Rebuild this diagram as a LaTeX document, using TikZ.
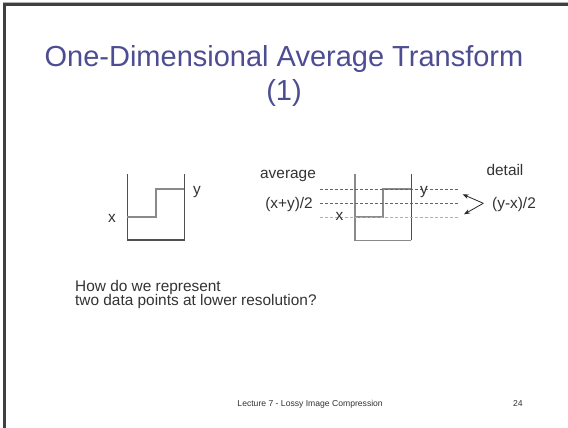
\documentclass[tikz,border=0pt]{standalone}
\usepackage{fontspec}
\setmainfont{Liberation Sans}
\usetikzlibrary{arrows.meta}
\definecolor{titlecol}{RGB}{77,77,148}
\definecolor{txt}{RGB}{51,51,51}
\definecolor{boxcol}{RGB}{80,80,80}
\definecolor{stepcol}{RGB}{138,138,138}
\definecolor{pinkdark}{RGB}{222,30,140}
\definecolor{pinklight}{RGB}{236,140,200}
\definecolor{framecol}{RGB}{64,64,68}
\tikzset{
  lbl/.style={inner sep=0pt, text=txt, font=\fontsize{15.4}{17}\selectfont},
  ttl/.style={inner sep=0pt, text=titlecol, font=\fontsize{29}{33}\selectfont, anchor=base},
  foot/.style={inner sep=0pt, text=txt, font=\fontsize{8.6}{10}\selectfont, anchor=base},
  boxline/.style={draw=boxcol, line width=1.2pt},
  stepline/.style={draw=stepcol, line width=1.6pt},
  dashpink/.style={draw=pinkdark, line width=0.9pt, dash pattern=on 3pt off 2pt},
  dashlight/.style={draw=pinklight, line width=1.2pt, dash pattern=on 3pt off 2pt},
  detailarrow/.style={draw=black!85, line width=0.8pt, -{Stealth[length=6pt,width=4.5pt]}}
}
\begin{document}
\begin{tikzpicture}[x=1pt,y=-1pt]
\useasboundingbox (0,0) rectangle (568,428);
\fill[white] (0,0) rectangle (568,428);
% frame
\draw[gray!60, line width=0.8pt] (3,2.2) -- (568,2.2);
\draw[framecol, line width=3pt] (3,4.5) -- (568,4.5);
\draw[framecol, line width=3pt] (4.5,3) -- (4.5,428);
% title
\node[ttl] (t1) at (284,66.5) {One-Dimensional Average Transform};
\node[ttl] (t2) at (284,101) {(1)};
% diagram 1
\coordinate (a1) at (127.3,174);
\coordinate (a2) at (127.3,240);
\coordinate (a3) at (184.3,240);
\coordinate (a4) at (184.3,174);
\draw[boxline] (a1) -- (a2) -- (a3) -- (a4);
\coordinate (s1) at (127.3,217);
\coordinate (s2) at (155.7,217);
\coordinate (s3) at (155.7,189);
\coordinate (s4) at (184.3,189);
\draw[stepline] (s1) -- (s2) -- (s3) -- (s4);
\node[lbl, anchor=base] (x1) at (112,222) {x};
\node[lbl, anchor=base] (y1) at (197,194) {y};
% diagram 2
\coordinate (d1) at (320,189);
\coordinate (d2) at (458,189);
\coordinate (m1) at (320,203.3);
\coordinate (m2) at (458,203.3);
\coordinate (l1) at (320,217.7);
\coordinate (l2) at (458,217.7);
\coordinate (b1) at (354.7,174);
\coordinate (b2) at (354.7,240.3);
\coordinate (b3) at (411.3,240.3);
\coordinate (b4) at (411.3,174);
\draw[stepline] (b1) -- (b2) -- (b3);
\draw[boxline] (b3) -- (b4);
\coordinate (u1) at (354.7,217);
\coordinate (u2) at (383,217);
\coordinate (u3) at (383,188.7);
\coordinate (u4) at (411.3,188.7);
\draw[stepline] (u1) -- (u2) -- (u3) -- (u4);
\draw[dashpink] (d1) -- (d2);
\draw[dashpink] (m1) -- (m2);
\draw[dashlight] (l1) -- (l2);
\node[lbl, anchor=base] (x2) at (339.5,220) {x};
\node[lbl, anchor=base] (y2) at (424,194) {y};
\node[lbl, anchor=base] (avg) at (288,178) {average};
\node[lbl, anchor=base] (xy) at (289,208.5) {(x+y)/2};
\node[lbl, anchor=base] (det) at (505,175) {detail};
\node[lbl, anchor=base west] (yx) at (492,208.5) {(y-x)/2};
\coordinate (v) at (483.3,203.3);
\coordinate (tipA) at (462.7,194.3);
\coordinate (tipB) at (464,214.3);
\draw[detailarrow] (v) -- (tipA);
\draw[detailarrow] (v) -- (tipB);
% question
\node[lbl, anchor=base west] (q1) at (75,291) {How do we represent};
\node[lbl, anchor=base west] (q2) at (75,305.5) {two data points at lower resolution?};
% footer
\node[foot, anchor=base east] (ft) at (383,406) {Lecture 7 - Lossy Image Compression};
\node[foot, anchor=base west] (pg) at (513,406) {24};
\end{tikzpicture}
\end{document}
